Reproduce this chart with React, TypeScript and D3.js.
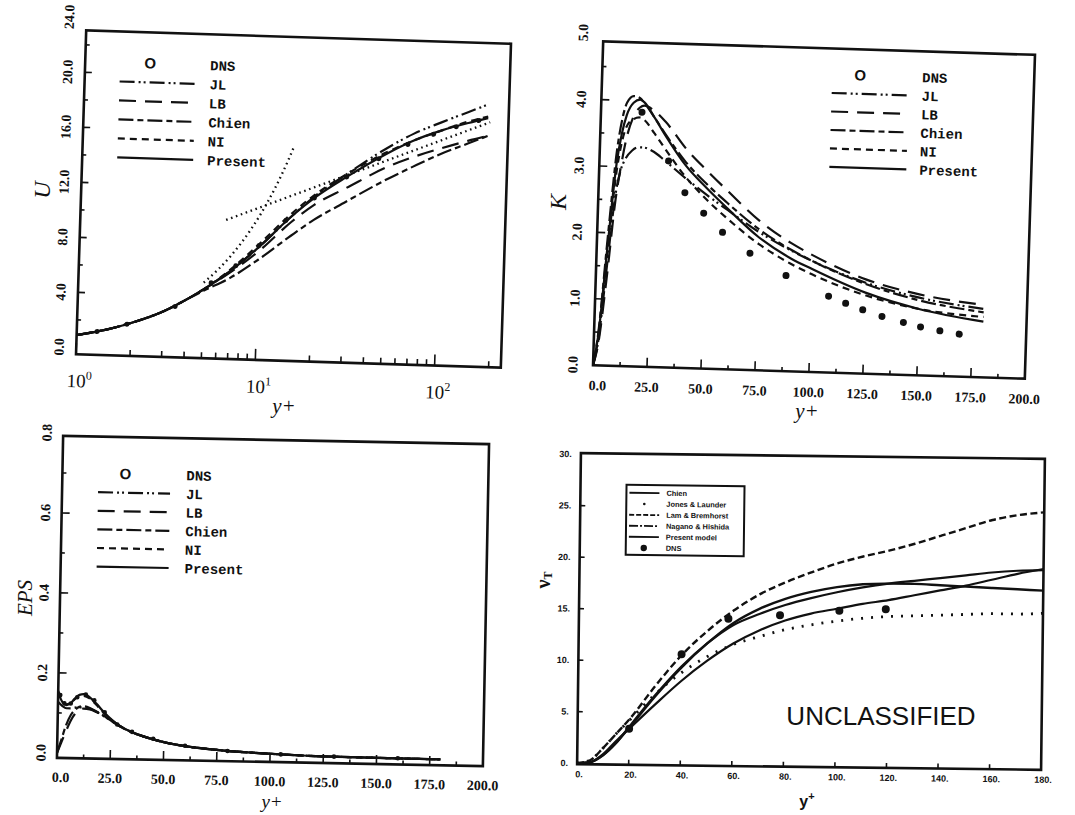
import React, { useEffect, useRef } from 'react';
import * as d3 from 'd3';

// ---------- panel 1: U vs y+ (log axis) ----------
const uYPlus = [1, 1.5, 2, 3, 4, 5, 7, 10, 15, 20, 30, 50, 70, 100, 140, 180];
const uPresent = [0.9, 1.4, 1.9, 2.8, 3.7, 4.5, 5.9, 7.7, 10.0, 11.4, 13.0, 14.8, 15.8, 16.6, 17.2, 17.6];
const uNI = [0.9, 1.4, 1.9, 2.8, 3.7, 4.5, 6.0, 7.9, 10.2, 11.6, 13.2, 14.9, 15.8, 16.6, 17.3, 17.7];
const uJL = [0.9, 1.4, 1.9, 2.8, 3.7, 4.5, 5.9, 7.7, 10.0, 11.5, 13.2, 15.2, 16.3, 17.2, 18.0, 18.6];
const uLB = [0.9, 1.4, 1.9, 2.8, 3.7, 4.5, 5.8, 7.4, 9.6, 10.9, 12.2, 13.8, 14.6, 15.3, 15.9, 16.3];
const uChien = [0.9, 1.4, 1.9, 2.8, 3.7, 4.4, 5.4, 6.8, 8.6, 9.8, 11.2, 12.9, 13.9, 14.9, 15.7, 16.3];
const uDnsYPlus = [1.3, 1.9, 3.5, 5.5, 7.5, 10, 14, 20, 30, 45, 65, 90, 120, 160];
const uDns = [1.2, 1.8, 3.2, 5.0, 6.3, 7.8, 9.7, 11.4, 13.0, 14.4, 15.5, 16.3, 16.9, 17.4];
const uLinYPlus = [5, 6, 7, 8, 9, 10, 11, 12, 13, 14, 15];
const uLin = [5, 6, 7, 8, 9, 10, 11, 12, 13, 14, 15];
const uLogYPlus = [6.5, 185];
const uLog = [9.6, 17.3];
const uTicks = [0, 4, 8, 12, 16, 20, 24];

// ---------- panel 2: K vs y+ ----------
const kYPlus = [0, 2, 5, 8, 10, 12, 15, 18, 20, 25, 30, 40, 50, 60, 75, 90, 100, 125, 150, 180];
const kPresent = [0, 0.45, 1.8, 3.05, 3.5, 3.78, 3.97, 4.02, 3.98, 3.75, 3.5, 3.05, 2.72, 2.42, 2.0, 1.7, 1.55, 1.22, 1.0, 0.84];
const kChien = [0, 0.5, 1.95, 3.25, 3.72, 3.97, 4.07, 4.04, 3.97, 3.75, 3.52, 3.1, 2.78, 2.5, 2.12, 1.83, 1.67, 1.35, 1.13, 0.98];
const kLB = [0, 0.3, 1.3, 2.5, 3.0, 3.4, 3.75, 3.9, 3.93, 3.85, 3.7, 3.3, 2.98, 2.68, 2.25, 1.93, 1.76, 1.42, 1.22, 1.09];
const kJL = [0, 0.35, 1.5, 2.6, 2.95, 3.12, 3.25, 3.3, 3.3, 3.24, 3.12, 2.86, 2.62, 2.4, 2.08, 1.82, 1.67, 1.37, 1.17, 1.03];
const kNI = [0, 0.4, 1.7, 2.9, 3.35, 3.6, 3.72, 3.75, 3.72, 3.52, 3.3, 2.88, 2.55, 2.27, 1.9, 1.62, 1.47, 1.18, 1.0, 0.91];
const kDnsYPlus = [19, 32, 40, 49, 58, 71, 88, 108, 116, 124, 133, 143, 151, 160, 169];
const kDns = [3.83, 3.11, 2.64, 2.34, 2.06, 1.76, 1.44, 1.15, 1.05, 0.96, 0.87, 0.79, 0.73, 0.68, 0.64];
const kTicks = [0, 1, 2, 3, 4, 5];

// ---------- panel 3: EPS vs y+ ----------
const eYPlus = [0, 2, 4, 6, 8, 10, 12, 15, 18, 22, 26, 30, 35, 40, 50, 60, 75, 100, 125, 150, 180];
const ePresent = [0.150, 0.128, 0.12, 0.125, 0.137, 0.146, 0.148, 0.140, 0.125, 0.102, 0.083, 0.068, 0.055, 0.046, 0.032, 0.023, 0.015, 0.008, 0.004, 0.003, 0.002];
const eNI = [0.155, 0.132, 0.122, 0.126, 0.136, 0.143, 0.144, 0.137, 0.122, 0.100, 0.082, 0.068, 0.055, 0.046, 0.032, 0.023, 0.015, 0.008, 0.004, 0.003, 0.002];
const eJL = [0.128, 0.118, 0.112, 0.112, 0.114, 0.115, 0.115, 0.112, 0.105, 0.093, 0.080, 0.067, 0.055, 0.046, 0.032, 0.023, 0.015, 0.008, 0.004, 0.003, 0.002];
const eLB = [0, 0.028, 0.055, 0.08, 0.098, 0.108, 0.112, 0.11, 0.104, 0.093, 0.08, 0.067, 0.055, 0.046, 0.032, 0.023, 0.015, 0.008, 0.004, 0.003, 0.002];
const eChien = [0, 0.035, 0.07, 0.094, 0.108, 0.116, 0.118, 0.114, 0.106, 0.094, 0.081, 0.068, 0.055, 0.046, 0.032, 0.023, 0.015, 0.008, 0.004, 0.003, 0.002];
const eDnsYPlus = [1, 3, 6, 9, 13, 17, 22, 28, 35, 45, 60, 80, 105, 130, 160];
const eDns = [0.145, 0.124, 0.124, 0.14, 0.147, 0.133, 0.104, 0.074, 0.056, 0.040, 0.024, 0.013, 0.007, 0.004, 0.003];
const eTicks = [0, 0.2, 0.4, 0.6, 0.8];

// ---------- panel 4: nu_T vs y+ ----------
const nYPlus = [0, 5, 10, 15, 20, 30, 40, 50, 60, 70, 80, 90, 100, 110, 120, 130, 140, 150, 160, 170, 180];
const nChien = [0, 0.1, 0.8, 2.0, 3.5, 6.6, 9.4, 11.8, 13.8, 15.2, 16.2, 16.9, 17.4, 17.7, 17.8, 17.8, 17.7, 17.6, 17.5, 17.4, 17.3];
const nJones = [0, 0.3, 1.5, 2.9, 4.2, 6.8, 8.9, 10.5, 11.7, 12.5, 13.2, 13.7, 14.1, 14.4, 14.6, 14.7, 14.8, 14.9, 15.0, 15.0, 15.1];
const nLam = [0, 0.3, 1.5, 2.9, 4.3, 7.6, 10.6, 13.0, 15.0, 16.6, 17.8, 18.8, 19.7, 20.4, 21.0, 21.7, 22.5, 23.3, 24.1, 24.6, 24.9];
const nNagano = [0, 0.1, 0.8, 2.0, 3.6, 6.7, 9.5, 11.8, 13.6, 14.7, 15.6, 16.3, 16.9, 17.4, 17.8, 18.1, 18.4, 18.7, 19.0, 19.2, 19.3];
const nPresent = [0, 0.1, 0.9, 2.2, 3.4, 5.8, 8.1, 10.1, 11.8, 13.1, 14.1, 14.8, 15.3, 15.8, 16.2, 16.7, 17.2, 17.7, 18.3, 18.9, 19.4];
const nDnsYPlus = [20, 40, 58, 78, 101, 119];
const nDns = [3.4, 10.7, 14.2, 14.6, 15.1, 15.3];
const nYTicks = [0, 5, 10, 15, 20, 25, 30];
const nXTicks = [0, 20, 40, 60, 80, 100, 120, 140, 160, 180];

const legendNames = ['JL', 'LB', 'Chien', 'NI', 'Present'];
const nLegendNames = ['Chien', 'Jones & Launder', 'Lam & Bremhorst', 'Nagano & Hishida', 'Present model', 'DNS'];

// layout (un-rotated frames; each panel is tilted like the scan)
const FRAME_U = { left: 81, right: 506, top: 37, bottom: 361, angle: 1.8 };
const FRAME_K = { left: 598, right: 1030, top: 48, bottom: 372, angle: 1.8 };
const FRAME_E = { left: 60, right: 486, top: 440, bottom: 762, angle: 1.1 };
const FRAME_N = { left: 579, right: 1043, top: 456, bottom: 767, angle: 0.7 };

const SERIF = '"Liberation Serif", "DejaVu Serif", serif';
const MONO = '"Liberation Mono", "DejaVu Sans Mono", monospace';
const SANS = '"Liberation Sans", Arial, sans-serif';
const INK = '#111';
const LW = 2.2;

const DASH: { [k: string]: string | null } = {
  JL: '15,4,2,3,2,4',
  LB: '17,9',
  Chien: '15,4,6,4',
  NI: '7,5',
  Present: null,
};

type Frame = { left: number; right: number; top: number; bottom: number; angle: number };

function panelGroup(svg: any, f: Frame) {
  const cx = (f.left + f.right) / 2;
  const cy = (f.top + f.bottom) / 2;
  const g = svg.append('g').attr('transform', `rotate(${f.angle},${cx},${cy})`);
  g.append('rect')
    .attr('x', f.left).attr('y', f.top)
    .attr('width', f.right - f.left).attr('height', f.bottom - f.top)
    .attr('fill', 'none').attr('stroke', INK).attr('stroke-width', 2.6);
  return g;
}

function drawSeries(g: any, xs: number[], ys: number[], x: any, y: any, dash: string | null, width = LW) {
  const pts = xs.map((v, i) => [v, ys[i]]);
  const line = d3.line<number[]>()
    .x(d => x(d[0]))
    .y(d => y(d[1]))
    .curve(d3.curveMonotoneX);
  g.append('path')
    .datum(pts)
    .attr('d', line)
    .attr('fill', 'none')
    .attr('stroke', INK)
    .attr('stroke-width', width)
    .attr('stroke-dasharray', dash);
}

function drawDots(g: any, xs: number[], ys: number[], x: any, y: any, r: number) {
  g.selectAll(null)
    .data(xs.map((v, i) => [v, ys[i]]))
    .enter()
    .append('circle')
    .attr('cx', (d: number[]) => x(d[0]))
    .attr('cy', (d: number[]) => y(d[1]))
    .attr('r', r)
    .attr('fill', INK);
}

function tick(g: any, x1: number, y1: number, x2: number, y2: number) {
  g.append('line').attr('x1', x1).attr('y1', y1).attr('x2', x2).attr('y2', y2)
    .attr('stroke', INK).attr('stroke-width', 1.6);
}

function rotLabel(g: any, x: number, y: number, text: string, size: number) {
  g.append('text')
    .attr('transform', `translate(${x},${y}) rotate(-90)`)
    .attr('text-anchor', 'middle')
    .attr('dominant-baseline', 'central')
    .attr('font-family', SERIF)
    .attr('font-weight', 'bold')
    .attr('font-size', size)
    .attr('fill', INK)
    .text(text);
}

function bottomLabel(g: any, x: number, y: number, text: string, size: number) {
  g.append('text')
    .attr('x', x).attr('y', y)
    .attr('text-anchor', 'middle')
    .attr('font-family', SERIF)
    .attr('font-weight', 'bold')
    .attr('font-size', size)
    .attr('fill', INK)
    .text(text);
}

function drawLegend(g: any, ox: number, tx: number, lx0: number, lx1: number, y0: number, step: number) {
  g.append('text').attr('x', ox).attr('y', y0 + 5).attr('text-anchor', 'middle')
    .attr('font-family', SANS).attr('font-weight', 'bold').attr('font-size', 15).attr('fill', INK).text('O');
  g.append('text').attr('x', tx).attr('y', y0 + 5)
    .attr('font-family', MONO).attr('font-weight', 'bold').attr('font-size', 14).attr('fill', INK).text('DNS');
  legendNames.forEach((name, i) => {
    const yy = y0 + step * (i + 1);
    g.append('line').attr('x1', lx0).attr('x2', lx1).attr('y1', yy).attr('y2', yy)
      .attr('stroke', INK).attr('stroke-width', LW).attr('stroke-dasharray', DASH[name]);
    g.append('text').attr('x', tx).attr('y', yy + 5)
      .attr('font-family', MONO).attr('font-weight', 'bold').attr('font-size', 14).attr('fill', INK).text(name);
  });
}

function axisTitle(svg: any, x: number, y: number, text: string, size: number, rotate: boolean) {
  svg.append('text')
    .attr('transform', `translate(${x},${y})${rotate ? ' rotate(-90)' : ''}`)
    .attr('text-anchor', 'middle')
    .attr('dominant-baseline', 'central')
    .attr('font-family', SERIF)
    .attr('font-style', 'italic')
    .attr('font-size', size)
    .attr('fill', INK)
    .text(text);
}

function drawU(svg: any) {
  const f = FRAME_U;
  const g = panelGroup(svg, f);
  const x = d3.scaleLog().domain([1, 234]).range([f.left, f.right]);
  const y = d3.scaleLinear().domain([-0.5, 23.05]).range([f.bottom, f.top]);

  x.ticks().forEach((t: number) => {
    const lg = Math.log10(t);
    const major = Math.abs(lg - Math.round(lg)) < 1e-9;
    tick(g, x(t), f.bottom, x(t), f.bottom - (major ? 11 : 6));
  });
  d3.range(2, 23, 2).forEach(t => tick(g, f.left, y(t), f.left + (t % 4 === 0 ? 7 : 4), y(t)));

  uTicks.forEach(t => rotLabel(g, f.left - 17, y(t), t.toFixed(1), 14));
  [1, 10, 100].forEach((t, i) => {
    const txt = g.append('text').attr('x', x(t) + 4).attr('y', f.bottom + 33).attr('text-anchor', 'middle')
      .attr('font-family', SERIF).attr('font-size', 19).attr('fill', INK);
    txt.append('tspan').text('10');
    txt.append('tspan').attr('dy', -8).attr('font-size', 12).text(String(i));
  });

  drawSeries(g, uLinYPlus, uLin, x, y, '1.6,3.6', 2.3);
  drawSeries(g, uLogYPlus, uLog, x, y, '1.6,3.6', 2.3);
  drawSeries(g, uYPlus, uChien, x, y, DASH.Chien);
  drawSeries(g, uYPlus, uLB, x, y, DASH.LB);
  drawSeries(g, uYPlus, uJL, x, y, DASH.JL);
  drawSeries(g, uYPlus, uNI, x, y, DASH.NI);
  drawSeries(g, uYPlus, uPresent, x, y, DASH.Present);
  drawDots(g, uDnsYPlus, uDns, x, y, 2.5);

  drawLegend(g, 146, 206, 116, 192, 68, 19);

  axisTitle(svg, 42, 190, 'U', 24, true);
  axisTitle(svg, 284, 406, 'y+', 21, false);
}

function drawK(svg: any) {
  const f = FRAME_K;
  const g = panelGroup(svg, f);
  const x = d3.scaleLinear().domain([0, 200]).range([f.left, f.right]);
  const y = d3.scaleLinear().domain([0, 5]).range([f.bottom, 40]);

  d3.range(12.5, 200, 12.5).forEach(t => tick(g, x(t), f.bottom, x(t), f.bottom - (t % 25 === 0 ? 9 : 4)));
  d3.range(0.5, 4.9, 0.5).forEach(t => tick(g, f.left, y(t), f.left + (t % 1 === 0 ? 8 : 4), y(t)));

  kTicks.forEach(t => rotLabel(g, f.left - 20, y(t), t.toFixed(1), 14));
  d3.range(0, 201, 25).forEach(t => bottomLabel(g, x(t) + (t === 0 ? 5 : 0), f.bottom + 25, t.toFixed(1), 14));

  drawSeries(g, kYPlus, kJL, x, y, DASH.JL);
  drawSeries(g, kYPlus, kLB, x, y, DASH.LB);
  drawSeries(g, kYPlus, kChien, x, y, DASH.Chien);
  drawSeries(g, kYPlus, kNI, x, y, DASH.NI);
  drawSeries(g, kYPlus, kPresent, x, y, DASH.Present);
  drawDots(g, kDnsYPlus, kDns, x, y, 3.5);

  drawLegend(g, 856, 918, 828, 905, 74, 18.5);

  axisTitle(svg, 558, 202, 'K', 24, true);
  axisTitle(svg, 807, 411, 'y+', 21, false);
}

function drawE(svg: any) {
  const f = FRAME_E;
  const g = panelGroup(svg, f);
  const x = d3.scaleLinear().domain([0, 200]).range([f.left, f.right]);
  const y = d3.scaleLinear().domain([0, 0.8]).range([757, 437]);

  d3.range(12.5, 200, 12.5).forEach(t => tick(g, x(t), f.bottom, x(t), f.bottom - (t % 25 === 0 ? 9 : 4)));
  d3.range(1, 8).forEach(i => tick(g, f.left, y(i / 10), f.left + (i % 2 === 0 ? 8 : 4), y(i / 10)));

  eTicks.forEach(t => rotLabel(g, f.left - 16, y(t), t.toFixed(1), 14));
  d3.range(0, 201, 25).forEach(t => bottomLabel(g, x(t) + (t === 0 ? 4 : 0), f.bottom + 24, t.toFixed(1), 14));

  drawSeries(g, eYPlus, eLB, x, y, DASH.LB);
  drawSeries(g, eYPlus, eChien, x, y, DASH.Chien);
  drawSeries(g, eYPlus, eJL, x, y, DASH.JL);
  drawSeries(g, eYPlus, eNI, x, y, DASH.NI);
  drawSeries(g, eYPlus, ePresent, x, y, DASH.Present);
  drawDots(g, eDnsYPlus, eDns, x, y, 2.3);

  drawLegend(g, 123, 184, 96, 168, 477, 18.6);

  axisTitle(svg, 25, 598, 'EPS', 21, true);
  axisTitle(svg, 272, 801, 'y+', 19, false);
}

function drawN(svg: any) {
  const f = FRAME_N;
  const g = panelGroup(svg, f);
  const x = d3.scaleLinear().domain([0, 180]).range([f.left, f.right]);
  const y = d3.scaleLinear().domain([0, 30]).range([766, 457]);

  nXTicks.slice(1, -1).forEach(t => tick(g, x(t), f.bottom, x(t), f.bottom - 5));
  nYTicks.slice(1, -1).forEach(t => tick(g, f.left, y(t), f.left + 5, y(t)));

  nYTicks.forEach(t => g.append('text').attr('x', f.left - 9).attr('y', y(t) + 3).attr('text-anchor', 'end')
    .attr('font-family', SANS).attr('font-weight', 'bold').attr('font-size', 9).attr('fill', INK).text(t + '.'));
  nXTicks.forEach(t => g.append('text').attr('x', x(t) + 2).attr('y', f.bottom + 13).attr('text-anchor', 'middle')
    .attr('font-family', SANS).attr('font-weight', 'bold').attr('font-size', 9).attr('fill', INK).text(t + '.'));

  drawSeries(g, nYPlus, nJones, x, y, '2,8', 2.8);
  drawSeries(g, nYPlus, nLam, x, y, '7,3.5', 2.4);
  drawSeries(g, nYPlus, nChien, x, y, null, 2.4);
  drawSeries(g, nYPlus, nNagano, x, y, null, 2.2);
  drawSeries(g, nYPlus, nPresent, x, y, null, 2.2);
  drawDots(g, nDnsYPlus, nDns, x, y, 4);

  // legend box
  const bx = 625, by = 487, bw = 118, bh = 70;
  g.append('rect').attr('x', bx).attr('y', by).attr('width', bw).attr('height', bh)
    .attr('fill', 'white').attr('stroke', INK).attr('stroke-width', 2);
  const nStyles = ['solid', 'dot', '5,2', '9,2,2,2', 'solid', 'circle'];
  nLegendNames.forEach((name, i) => {
    const yy = by + 8 + i * 11;
    const st = nStyles[i];
    if (st === 'dot') {
      g.append('circle').attr('cx', bx + 18).attr('cy', yy).attr('r', 1.3).attr('fill', INK);
    } else if (st === 'circle') {
      g.append('circle').attr('cx', bx + 18).attr('cy', yy).attr('r', 3.2).attr('fill', INK);
    } else {
      g.append('line').attr('x1', bx + 3).attr('x2', bx + 33).attr('y1', yy).attr('y2', yy)
        .attr('stroke', INK).attr('stroke-width', 1.8).attr('stroke-dasharray', st === 'solid' ? null : st);
    }
    g.append('text').attr('x', bx + 40).attr('y', yy + 2.6)
      .attr('font-family', SANS).attr('font-weight', 'bold').attr('font-size', 7.4).attr('fill', INK).text(name);
  });

  const t1 = svg.append('text').attr('transform', 'translate(543,580) rotate(-90)').attr('text-anchor', 'middle')
    .attr('dominant-baseline', 'central').attr('font-family', SERIF).attr('font-weight', 'bold')
    .attr('font-size', 20).attr('fill', INK);
  t1.append('tspan').text('ν');
  t1.append('tspan').attr('dy', 5).attr('font-size', 12).text('T');

  const t2 = svg.append('text').attr('x', 807).attr('y', 807).attr('text-anchor', 'middle')
    .attr('font-family', SANS).attr('font-weight', 'bold').attr('font-size', 16).attr('fill', INK);
  t2.append('tspan').text('y');
  t2.append('tspan').attr('dy', -7).attr('font-size', 11).text('+');

  svg.append('text').attr('x', 881).attr('y', 725).attr('text-anchor', 'middle')
    .attr('font-family', SANS).attr('font-size', 26).attr('fill', INK).text('UNCLASSIFIED');
}

export default function App() {
  const ref = useRef<SVGSVGElement>(null);

  useEffect(() => {
    const svg = d3.select(ref.current);
    svg.selectAll('*').remove();
    svg.append('rect').attr('width', 1075).attr('height', 815).attr('fill', 'white');
    drawU(svg);
    drawK(svg);
    drawE(svg);
    drawN(svg);
  }, []);

  return (
    <svg
      ref={ref}
      width={1075}
      height={815}
      style={{ position: 'absolute', left: 0, top: 0, display: 'block' }}
    />
  );
}
